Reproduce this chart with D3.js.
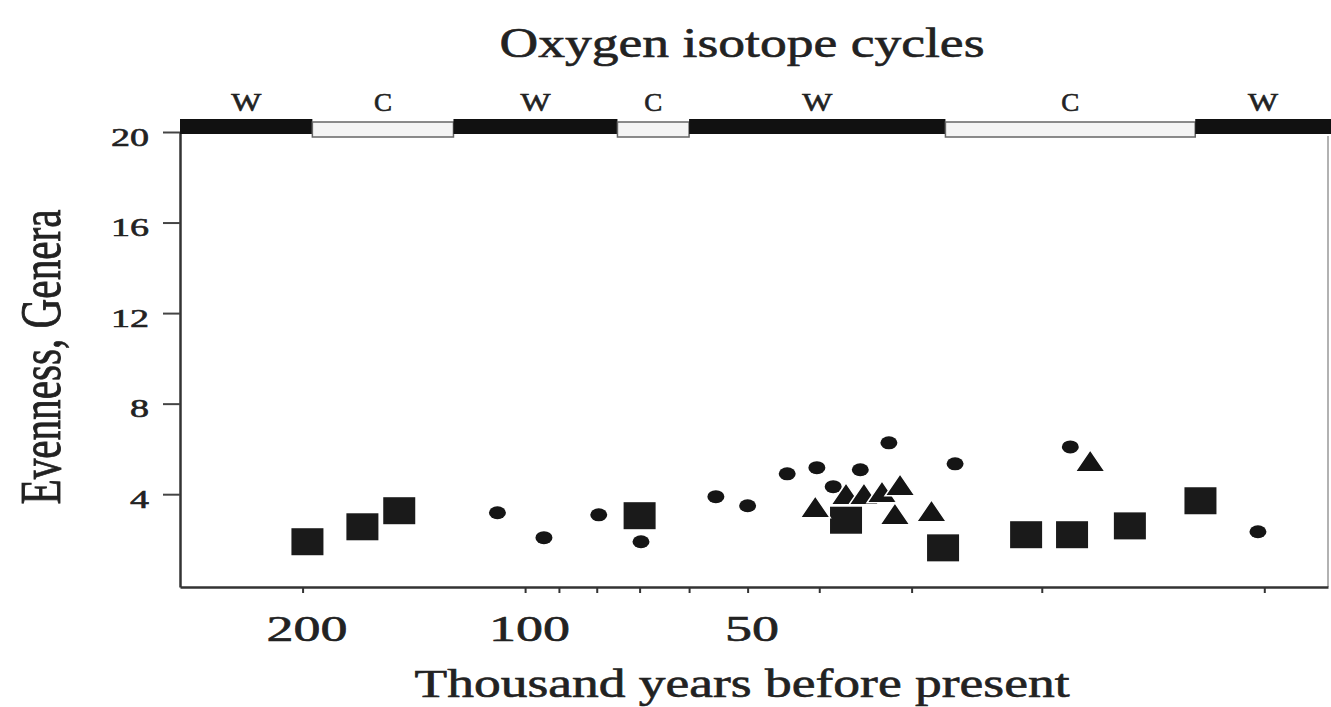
<!DOCTYPE html>
<html>
<head>
<meta charset="utf-8">
<script src="https://cdn.jsdelivr.net/npm/d3@7"></script>
<style>
  body { margin: 0; background: #fff; }
  svg text { font-family: "Liberation Serif", "DejaVu Serif", serif; fill: #222; stroke: #222; stroke-width: 0.6px; }
</style>
</head>
<body>
<svg id="chart"></svg>
<script>
// Oxygen isotope cycles along the top (W = warm, C = cold)
const cycleLabels = ['W', 'C', 'W', 'C', 'W', 'C', 'W'];
const cycleBounds = [293, 194, 125, 75, 60, 27, 12.4, 8.2]; // thousand years, oldest first

// Evenness of genera, three kinds of samples
const squareAges = [197, 166, 148, 70, 36.8, 27.2, 21.0, 18.2, 15.2, 12.2];
const squareValues = [1.9, 2.56, 3.27, 3.05, 2.85, 1.63, 2.21, 2.21, 2.6, 3.71];
const dotAges = [109, 94.3, 79.5, 69.7, 55.2, 50, 44.2, 40.3, 38.3, 35.2, 32.2, 26.2, 18.3, 10.2];
const dotValues = [3.18, 2.08, 3.09, 1.9, 3.89, 3.49, 4.9, 5.17, 4.33, 5.08, 6.27, 5.34, 6.09, 2.34];
const triangleAges = [40.5, 36.8, 34.8, 32.9, 31.1, 31.6, 28.2, 17.2];
const triangleValues = [3.4, 3.97, 3.97, 4.06, 4.37, 3.09, 3.22, 5.43];

// Axis ticks
const xTickValues = [200, 100, 90, 80, 70, 60, 50, 40, 30, 20, 10];
const xTickLabels = [200, 100, 50];
const yTickValues = [4, 8, 12, 16, 20];

const width = 1331, height = 707;
const margin = { top: 132, right: 3, bottom: 120, left: 180 };

const svg = d3.select('#chart')
    .attr('width', width)
    .attr('height', height);

// Scales: time runs right to left on a log scale
const x = d3.scaleLog()
    .domain([cycleBounds[0], cycleBounds[cycleBounds.length - 1]])
    .range([margin.left, width - margin.right]);

const y = d3.scaleLinear()
    .domain([-0.1, 20])
    .range([height - margin.bottom, margin.top]);

// Right frame edge
svg.append('line')
    .attr('x1', x.range()[1]).attr('x2', x.range()[1])
    .attr('y1', y(20) + 4).attr('y2', y.range()[0])
    .attr('stroke', '#999')
    .attr('stroke-width', 1.5);

// Bottom axis
const xAxis = svg.append('g')
    .attr('transform', 'translate(0,' + y.range()[0] + ')')
    .call(d3.axisBottom(x)
        .tickValues(xTickValues)
        .tickFormat(d => xTickLabels.includes(d) ? d : '')
        .tickSize(6)
        .tickPadding(22)
        .tickSizeOuter(0))
    .attr('font-size', 36);
xAxis.select('.domain').attr('stroke', '#333').attr('stroke-width', 2.5);
xAxis.selectAll('.tick line').attr('stroke', '#333').attr('stroke-width', 2);
xAxis.selectAll('.tick text')
    .attr('dx', 4)
    .each(function(d) {
        if (xTickLabels.includes(d)) {
            d3.select(this).attr('textLength', String(d).length * 27).attr('lengthAdjust', 'spacingAndGlyphs');
        }
    });

// Left axis
const yAxis = svg.append('g')
    .attr('transform', 'translate(' + margin.left + ',0)')
    .call(d3.axisLeft(y)
        .tickValues(yTickValues)
        .tickSize(17)
        .tickPadding(14)
        .tickSizeOuter(0))
    .attr('font-size', 26);
yAxis.select('.domain').attr('stroke', '#333').attr('stroke-width', 2.5);
yAxis.selectAll('.tick line').attr('stroke', '#444').attr('stroke-width', 2);
yAxis.selectAll('.tick text')
    .attr('dy', '0.5em')
    .attr('textLength', d => String(d).length * 19)
    .attr('lengthAdjust', 'spacingAndGlyphs');

// Isotope cycle bar
const cycles = cycleLabels.map((label, i) => ({
    label: label,
    x0: x(cycleBounds[i]),
    x1: i === cycleLabels.length - 1 ? width : x(cycleBounds[i + 1])
}));

svg.selectAll('.cycle')
    .data(cycles)
  .enter().append('rect')
    .attr('class', 'cycle')
    .attr('x', d => d.x0)
    .attr('width', d => d.x1 - d.x0)
    .attr('y', d => d.label === 'W' ? 119 : 122)
    .attr('height', 15)
    .attr('fill', d => d.label === 'W' ? '#111' : '#f4f4f4')
    .attr('stroke', d => d.label === 'W' ? 'none' : '#666')
    .attr('stroke-width', 1.5);

svg.selectAll('.cycle-label')
    .data(cycles)
  .enter().append('text')
    .attr('class', 'cycle-label')
    .attr('x', d => (d.x0 + d.x1) / 2)
    .attr('y', 111)
    .attr('text-anchor', 'middle')
    .attr('font-size', 25)
    .attr('textLength', d => d.label === 'W' ? 30 : 18)
    .attr('lengthAdjust', 'spacingAndGlyphs')
    .text(d => d.label);

// Squares
svg.selectAll('.square')
    .data(squareAges.map((a, i) => ({ age: a, value: squareValues[i] })))
  .enter().append('rect')
    .attr('class', 'square')
    .attr('x', d => x(d.age) - 16)
    .attr('y', d => y(d.value) - 13.5)
    .attr('width', 32)
    .attr('height', 27)
    .attr('fill', '#1a1a1a');

// Dots
svg.selectAll('.dot')
    .data(dotAges.map((a, i) => ({ age: a, value: dotValues[i] })))
  .enter().append('ellipse')
    .attr('class', 'dot')
    .attr('cx', d => x(d.age))
    .attr('cy', d => y(d.value))
    .attr('rx', 8.5)
    .attr('ry', 6.5)
    .attr('fill', '#151515');

// Triangles
svg.selectAll('.triangle')
    .data(triangleAges.map((a, i) => ({ age: a, value: triangleValues[i] })))
  .enter().append('path')
    .attr('class', 'triangle')
    .attr('transform', d => 'translate(' + x(d.age) + ',' + y(d.value) + ')')
    .attr('d', 'M0,-12L15,10L-15,10Z')
    .attr('fill', '#151515')
    .attr('stroke', '#fff')
    .attr('stroke-width', 1.5);

// Titles
svg.append('text')
    .attr('x', 742)
    .attr('y', 57)
    .attr('text-anchor', 'middle')
    .attr('font-size', 42)
    .attr('textLength', 485)
    .attr('lengthAdjust', 'spacingAndGlyphs')
    .text('Oxygen isotope cycles');

svg.append('text')
    .attr('x', 742)
    .attr('y', 697)
    .attr('text-anchor', 'middle')
    .attr('font-size', 39)
    .attr('textLength', 655)
    .attr('lengthAdjust', 'spacingAndGlyphs')
    .text('Thousand years before present');

svg.append('text')
    .attr('transform', 'translate(60,357) scale(1.45,1) rotate(-90)')
    .attr('text-anchor', 'middle')
    .attr('font-size', 40)
    .attr('textLength', 295)
    .attr('lengthAdjust', 'spacingAndGlyphs')
    .text('Evenness, Genera');
</script>
</body>
</html>
